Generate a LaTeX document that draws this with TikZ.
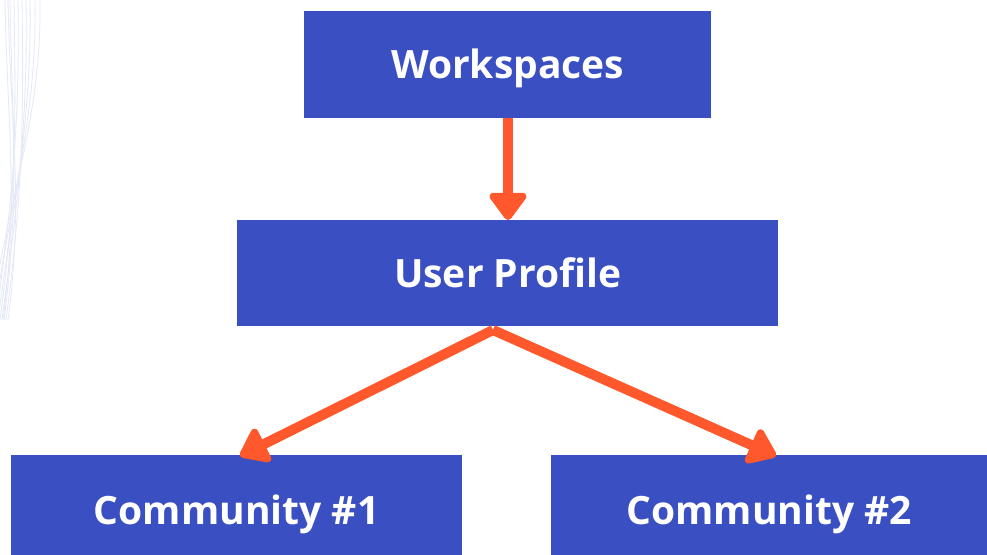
\documentclass[tikz,border=0pt]{standalone}
\usepackage{fontspec}
\setmainfont{Open Sans}
\usetikzlibrary{arrows.meta}
\definecolor{boxblue}{RGB}{58,79,193}
\definecolor{arrorange}{RGB}{255,88,44}
\definecolor{faint}{RGB}{228,232,247}
\begin{document}
\begin{tikzpicture}[x=1pt,y=-1pt,
  box/.style={fill=boxblue,text=white,inner sep=0pt,text height=28pt,text depth=0pt,font=\fontsize{39}{41}\selectfont\bfseries,anchor=north west},
  conn/.style={draw=arrorange,line width=10pt,-{Triangle[length=30pt,width=42pt,round]}},
  deco/.style={draw=faint,line width=0.8pt}]
\useasboundingbox (0,0) rectangle (987,554);
\fill[white] (0,0) rectangle (987,554);
% faint decorative curves
\foreach \a/\b in {35/0,30/4,26/8,22/12,18/2,14/6,10/10,40/-3,8/14,5/9}{
  \draw[deco] (\a,0) .. controls (\a+2,120) and (\b+10,200) .. (\b-6,320);
}
\node[box,minimum width=407pt,minimum height=107pt] (ws) at (304,11) {Workspaces};
\node[box,minimum width=541pt,minimum height=106pt] (up) at (237,220) {User Profile};
\node[box,minimum width=451pt,minimum height=110pt] (c1) at (11,455) {Community \#1};
\node[box,minimum width=436pt,minimum height=110pt] (c2) at (551,455) {Community \#2};
\coordinate (fork) at (493,330);
\coordinate (t1) at (240,456);
\coordinate (t2) at (776,456);
\draw[conn] (ws.south -| 508,0) -- (up.north -| 508,0);
\draw[conn,line join=round] (fork) -- (t1);
\draw[conn,line join=round] (fork) -- (t2);
\end{tikzpicture}
\end{document}
